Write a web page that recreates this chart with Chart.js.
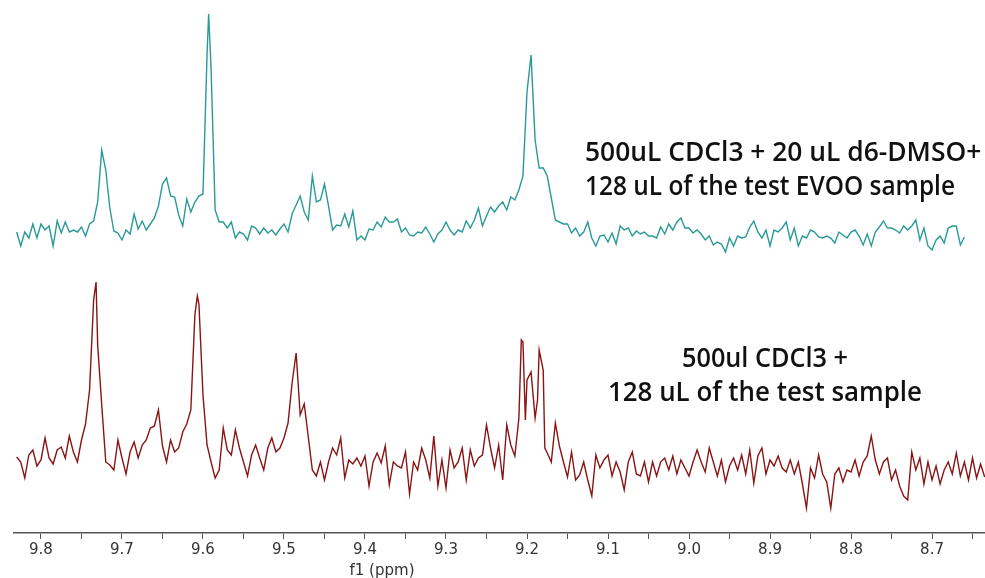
<!DOCTYPE html>
<html>
<head>
<meta charset="utf-8">
<script src="https://cdn.jsdelivr.net/npm/chart.js@4.4.0/dist/chart.umd.min.js"></script>
<style>
  html, body { margin: 0; padding: 0; background: #fff; }
  canvas { display: block; }
</style>
</head>
<body>
<canvas id="nmr" width="985" height="578"></canvas>
<script>
// chemical shift (ppm) of every sampled point, shared by both spectra
const ppm = [
  9.830, 9.825, 9.820, 9.815, 9.810, 9.805, 9.800, 9.795, 9.790, 9.785,
  9.780, 9.775, 9.770, 9.765, 9.760, 9.755, 9.750, 9.745, 9.740, 9.735, 9.732,
  9.730, 9.725, 9.720, 9.715, 9.710, 9.705, 9.700, 9.695, 9.690, 9.685,
  9.680, 9.675, 9.670, 9.665, 9.660, 9.655, 9.650, 9.645, 9.640, 9.635,
  9.630, 9.625, 9.620, 9.615, 9.610, 9.607, 9.605, 9.600, 9.595, 9.593, 9.590, 9.585,
  9.580, 9.575, 9.570, 9.565, 9.560, 9.555, 9.550, 9.545, 9.540, 9.535,
  9.530, 9.525, 9.520, 9.515, 9.510, 9.505, 9.500, 9.495, 9.490, 9.485,
  9.480, 9.475, 9.470, 9.465, 9.460, 9.455, 9.450, 9.445, 9.440, 9.435,
  9.430, 9.425, 9.420, 9.415, 9.410, 9.405, 9.400, 9.395, 9.390, 9.385,
  9.380, 9.375, 9.370, 9.365, 9.360, 9.355, 9.350, 9.345, 9.340, 9.335,
  9.330, 9.325, 9.320, 9.315, 9.310, 9.305, 9.300, 9.295, 9.290, 9.285,
  9.280, 9.275, 9.270, 9.265, 9.260, 9.255, 9.250, 9.245, 9.240, 9.235,
  9.230, 9.225, 9.220, 9.215, 9.210, 9.207, 9.205, 9.202, 9.200, 9.195, 9.190, 9.187, 9.185,
  9.180, 9.178, 9.175, 9.170, 9.165, 9.160, 9.155, 9.150, 9.145, 9.140, 9.135,
  9.130, 9.125, 9.120, 9.115, 9.110, 9.105, 9.100, 9.095, 9.090, 9.085,
  9.080, 9.075, 9.070, 9.065, 9.060, 9.055, 9.050, 9.045, 9.040, 9.035,
  9.030, 9.025, 9.020, 9.015, 9.010, 9.005, 9.000, 8.995, 8.990, 8.985,
  8.980, 8.975, 8.970, 8.965, 8.960, 8.955, 8.950, 8.945, 8.940, 8.935,
  8.930, 8.925, 8.920, 8.915, 8.910, 8.905, 8.900, 8.895, 8.890, 8.885,
  8.880, 8.875, 8.870, 8.865, 8.860, 8.855, 8.850, 8.845, 8.840, 8.835,
  8.830, 8.825, 8.820, 8.815, 8.810, 8.805, 8.800, 8.795, 8.790, 8.785,
  8.780, 8.775, 8.770, 8.765, 8.760, 8.755, 8.750, 8.745, 8.740, 8.735,
  8.730, 8.725, 8.720, 8.715, 8.710, 8.705, 8.700, 8.695, 8.690, 8.685,
  8.680, 8.675, 8.670, 8.665, 8.660, 8.655, 8.650, 8.645, 8.640, 8.635
];

// stacked intensities (a.u.), top spectrum: CDCl3 + d6-DMSO + EVOO
const tealIntensity = [
  301, 287, 301, 295, 309, 295, 309, 303, 307, 287,
  312, 300, 311, 301, 303, 301, 306, 297, 309, 312, null,
  331, 383, 363, 325, 302, 300, 293, 303, 299, 319,
  304, 312, 303, 309, 315, 327, 349, 355, 337, 336,
  318, 307, 334, 321, 331, null, 337, 339, 478, 519, 464, 323,
  311, 311, 305, 311, 295, 301, 299, 293, 307, 305,
  299, 305, 300, 303, 298, 304, 309, 301, 319, 328,
  337, 321, 313, 357, 331, 333, 349, 327, 303, 308,
  307, 319, 306, 322, 293, 297, 293, 304, 303, 311,
  306, 316, 311, 311, 314, 301, 305, 298, 297, 301,
  300, 306, 299, 291, 299, 303, 311, 303, 298, 303,
  301, 312, 305, 313, 325, 307, 317, 326, 321, 327,
  331, 323, 336, 333, 343, null, 357, null, 441, 478, 393, null, 365,
  365, null, 357, 335, 313, 311, 309, 309, 300, 305, 297,
  301, 311, 295, 287, 297, 298, 291, 300, 289, 307,
  303, 305, 297, 302, 299, 301, 297, 297, 295, 306,
  299, 309, 303, 311, 315, 305, 305, 300, 303, 299,
  293, 297, 288, 291, 289, 281, 295, 287, 297, 295,
  296, 306, 312, 301, 295, 303, 287, 303, 301, 305,
  311, 293, 305, 287, 297, 295, 303, 301, 296, 295,
  297, 295, 290, 301, 298, 295, 301, 303, 297, 288,
  299, 287, 301, 306, 312, 305, 305, 303, 300, 307,
  303, 307, 313, 293, 305, 287, 283, 293, 297, 290,
  305, 307, 307, 288, 296, null, null, null, null, null
];

// bottom spectrum: CDCl3 + test sample
const redIntensity = [
  76, 71, 55, 78, 83, 67, 73, 95, 75, 69,
  83, 86, 75, 97, 81, 71, 93, 109, 143, 233, 251,
  188, 128, 71, 68, 63, 93, 75, 59, 81, 91,
  75, 88, 93, 105, 107, 123, 87, 71, 93, 81,
  85, 101, 109, 123, 218, 237, 229, 138, 88, null, 71, 55,
  63, 105, 83, 78, 103, 85, 71, 57, 78, 88,
  75, 63, 85, 95, 81, 85, 95, 110, 150, 180,
  118, 129, 96, 63, 57, 71, 53, 71, 85, 78,
  95, 55, 73, 69, 75, 67, 77, 47, 71, 80,
  70, 87, 48, 71, 67, 65, 81, 39, 71, 63,
  85, 73, 55, 97, 47, 73, 45, 83, 65, 71,
  85, 53, 83, 67, 75, 78, 108, 85, 65, 88,
  53, 108, 88, 77, 115, 193, 191, 113, 153, 161, 115, 133, 183,
  163, 85, 80, 71, 110, 87, 71, 56, 81, 53, 58,
  71, 53, 37, 78, 65, 73, 78, 57, 71, 61,
  43, 71, 81, 59, 57, 71, 51, 71, 57, 71,
  75, 63, 77, 59, 73, 65, 57, 71, 83, 71,
  61, 85, 71, 57, 73, 51, 67, 75, 63, 78,
  59, 83, 50, 77, 85, 59, 73, 67, 77, 65,
  61, 73, 59, 71, 49, 25, 65, 55, 78, 59,
  51, 25, 59, 65, 51, 63, 61, 73, 57, 71,
  77, 97, 73, 59, 71, 75, 53, 63, 47, 37,
  33, 81, 63, 75, 49, 71, 53, 67, 49, 63,
  71, 59, 80, 57, 71, 53, 75, 55, 69, 56
];

const tickLabels = ['9.8', '9.7', '9.6', '9.5', '9.4', '9.3', '9.2', '9.1', '9.0', '8.9', '8.8', '8.7'];
const axisTitle = 'f1 (ppm)';
const tealNote = ['500uL CDCl3 + 20 uL d6-DMSO+', '128 uL of the test EVOO sample'];
const redNote = ['500ul CDCl3 +', '128 uL of the test sample'];

const noteFamily = '"Comic Sans MS", "Open Sans", sans-serif';

// axis title and sample captions
const labelsPlugin = {
  id: 'labels',
  afterDraw(chart) {
    const ctx = chart.ctx;
    const xs = chart.scales.x;
    ctx.save();
    ctx.fillStyle = '#333';
    ctx.font = '15px "DejaVu Sans"';
    ctx.textAlign = 'center';
    ctx.textBaseline = 'alphabetic';
    ctx.fillText(axisTitle, xs.getPixelForValue(9.379), 575);

    // size caption font so the first line spans like the original
    ctx.font = '600 30px ' + noteFamily;
    const size = 30 * 397 / ctx.measureText(tealNote[0]).width;
    ctx.font = '600 ' + size.toFixed(1) + 'px ' + noteFamily;
    ctx.fillStyle = '#111';
    ctx.textAlign = 'left';
    ctx.fillText(tealNote[0], 585, 161, 397);
    ctx.fillText(tealNote[1], 585, 195, 370);
    ctx.textAlign = 'center';
    ctx.fillText(redNote[0], 765, 367, 166);
    ctx.fillText(redNote[1], 765, 401, 314);
    ctx.restore();
  }
};

const toPoints = vals => ppm.map((x, k) => ({ x: x, y: vals[k] }));

new Chart(document.getElementById('nmr'), {
  type: 'line',
  data: {
    datasets: [{
      label: 'CDCl3 + d6-DMSO + EVOO',
      data: toPoints(tealIntensity),
      borderColor: '#2a9a97',
      borderWidth: 1.4,
      pointRadius: 0,
      tension: 0,
      spanGaps: true
    }, {
      label: 'CDCl3 + test sample',
      data: toPoints(redIntensity),
      borderColor: '#8a1414',
      borderWidth: 1.4,
      pointRadius: 0,
      tension: 0,
      spanGaps: true
    }]
  },
  options: {
    responsive: false,
    animation: false,
    layout: { padding: { left: 14, right: 0, top: 0, bottom: 0 } },
    plugins: {
      legend: { display: false },
      tooltip: { enabled: false }
    },
    scales: {
      x: {
        type: 'linear',
        reverse: true,
        min: 8.6346,
        max: 9.8333,
        afterFit(scale) { scale.height = 45; },
        border: { display: true, color: '#555', width: 1.5 },
        grid: { drawOnChartArea: false, drawTicks: true, tickLength: 6, color: '#555' },
        ticks: {
          stepSize: 0.05,
          includeBounds: false,
          autoSkip: false,
          maxRotation: 0,
          padding: 2,
          color: '#333',
          font: { family: 'DejaVu Sans', size: 15 },
          callback: v => {
            const s = Number(v).toFixed(1);
            return (Math.abs(v * 10 - Math.round(v * 10)) < 1e-6 && tickLabels.includes(s)) ? s : '';
          }
        }
      },
      y: {
        display: false,
        min: 0,
        max: 533
      }
    }
  },
  plugins: [labelsPlugin]
});
</script>
</body>
</html>
